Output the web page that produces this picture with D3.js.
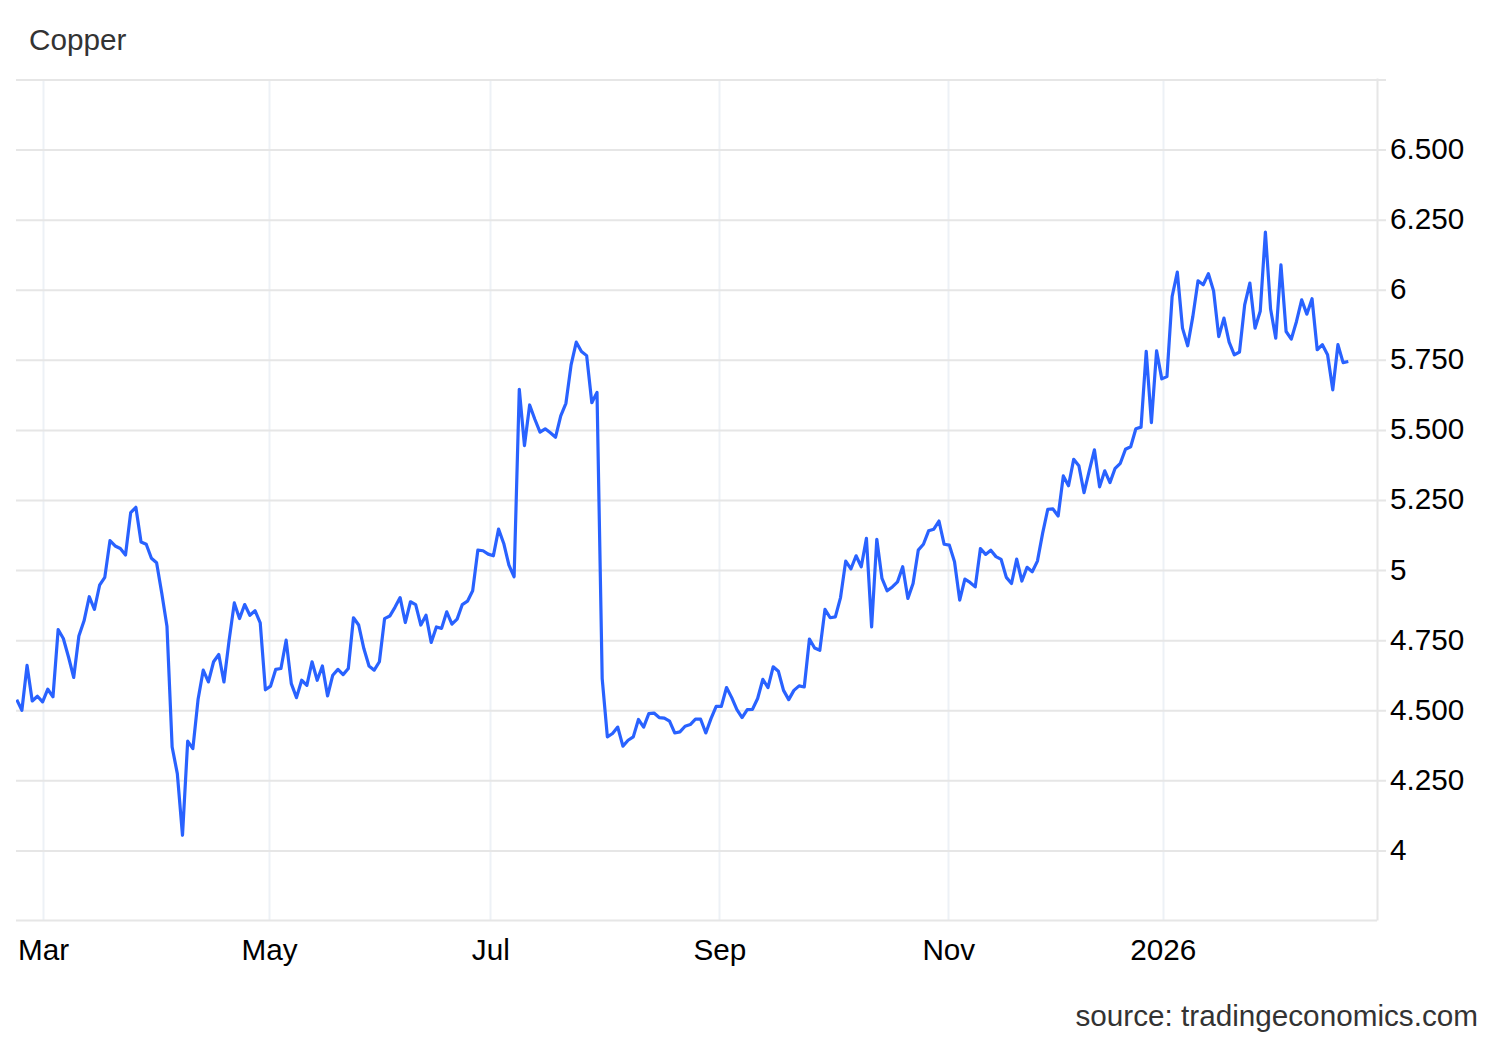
<!DOCTYPE html>
<meta charset="UTF-8">
<head>
    <title>Copper</title>
    <style>
        body { margin: 0; background: #fff; }
        svg { display: block; }
    </style>
</head>
<body>
<svg width="1500" height="1040" font-family="'Liberation Sans', Arial, Helvetica, sans-serif"></svg>
<script src="https://d3js.org/d3.v7.min.js"></script>
<script>

// Daily copper price, USD/lb (one value per trading day).
var prices = [
    4.538, 4.50, 4.66, 4.533, 4.55, 4.53, 4.575, 4.548, 4.788, 4.756,
    4.69, 4.617, 4.765, 4.819, 4.905, 4.86, 4.946, 4.974, 5.105, 5.086,
    5.077, 5.054, 5.205, 5.224, 5.10, 5.092, 5.042, 5.026, 4.917, 4.80,
    4.369, 4.274, 4.054, 4.39, 4.363, 4.538, 4.643, 4.601, 4.673, 4.699,
    4.601, 4.75, 4.883, 4.827, 4.877, 4.839, 4.855, 4.812, 4.573, 4.586,
    4.646, 4.649, 4.75, 4.595, 4.545, 4.607, 4.589, 4.673, 4.607,
    4.658, 4.551, 4.625, 4.646, 4.627, 4.649, 4.83, 4.804, 4.72, 4.658,
    4.643, 4.673, 4.827, 4.836, 4.867, 4.902, 4.813, 4.887, 4.877, 4.804,
    4.839, 4.742, 4.797, 4.792, 4.851, 4.807, 4.825, 4.877, 4.889, 4.926,
    5.071, 5.069, 5.057,
    5.051, 5.146, 5.095, 5.018, 4.976, 5.645, 5.444, 5.589, 5.538, 5.492,
    5.504, 5.49, 5.474, 5.55, 5.595, 5.732, 5.813, 5.78, 5.765, 5.597,
    5.634, 4.613, 4.405, 4.417, 4.44, 4.372, 4.393, 4.405, 4.467, 4.44,
    4.488, 4.49, 4.474, 4.472, 4.461, 4.419, 4.423, 4.443, 4.449, 4.468,
    4.468, 4.419, 4.47, 4.514, 4.514, 4.581, 4.545, 4.502, 4.474, 4.502,
    4.503, 4.542, 4.61, 4.581, 4.655, 4.639, 4.571, 4.538, 4.571, 4.587,
    4.583, 4.754, 4.722, 4.714, 4.86, 4.83, 4.833, 4.902, 5.032, 5.004,
    5.051, 5.012, 5.113, 4.797, 5.11, 4.97, 4.926, 4.94, 4.958, 5.012,
    4.899, 4.952, 5.071, 5.092, 5.14, 5.146, 5.175, 5.092, 5.089, 5.03,
    4.893, 4.968, 4.956, 4.94, 5.077, 5.056, 5.071, 5.048, 5.038, 4.974,
    4.952, 5.039, 4.961, 5.01, 4.994, 5.032, 5.131, 5.217, 5.218, 5.193,
    5.336, 5.301, 5.395, 5.372, 5.276, 5.354, 5.429, 5.297, 5.354, 5.312,
    5.363, 5.381, 5.431, 5.44, 5.504, 5.51, 5.78, 5.526, 5.782, 5.682,
    5.69, 5.976, 6.063, 5.863, 5.80, 5.905, 6.032, 6.018, 6.057, 5.996,
    5.833, 5.899, 5.813, 5.768, 5.778, 5.946, 6.024, 5.863, 5.923, 6.206,
    5.931, 5.827, 6.089, 5.851, 5.824, 5.887, 5.964, 5.913, 5.968, 5.786,
    5.804, 5.768, 5.643, 5.804, 5.74, 5.744
];

// Month labels and where they sit along the trading-day index.
var monthLabels = ["Mar", "May", "Jul", "Sep", "Nov", "2026"];
var monthIndex  = [5.1, 48.7, 91.4, 135.6, 179.8, 221.2];

// Price axis.
var yTicks = [4, 4.25, 4.5, 4.75, 5, 5.25, 5.5, 5.75, 6, 6.25, 6.5, 6.75];
var yLabeled = [4, 4.25, 4.5, 4.75, 5, 5.25, 5.5, 5.75, 6, 6.25, 6.5];

var svg = d3.select("svg");

// plot box (note: "top" is taken by window.top, so use other names)
var plotL = 16, plotR = 1377, plotT = 79.5, plotB = 920.5;
var fontPx = 29.7;

var x = d3.scaleLinear()
    .domain([0, prices.length - 1])
    .range([16.7, 1348.3]);

var y = d3.scaleLinear()
    .domain([3.75, 6.75])
    .range([plotB, plotT]);

var fmt = function(d) { return Number.isInteger(d) ? String(d) : d.toFixed(3); };

// vertical grid lines at month starts
svg.append("g")
    .selectAll("line")
    .data(monthIndex)
    .enter().append("line")
    .attr("x1", function(d) { return Math.round(x(d)) + 0.5; })
    .attr("x2", function(d) { return Math.round(x(d)) + 0.5; })
    .attr("y1", plotT)
    .attr("y2", plotB)
    .attr("stroke", "#edf1f6")
    .attr("stroke-width", 2);

// horizontal grid lines (they run a few px past the right axis, like ticks)
var grid = svg.append("g")
    .attr("transform", "translate(" + (plotR + 9) + ",0)")
    .call(d3.axisLeft(y).tickValues(yTicks).tickSize(plotR + 9 - plotL).tickFormat(""));
grid.select(".domain").remove();
grid.selectAll(".tick line").attr("stroke", "#e6e6e6").attr("stroke-width", 2);

// right axis line
svg.append("line")
    .attr("x1", plotR + 0.5).attr("x2", plotR + 0.5)
    .attr("y1", plotT - 1).attr("y2", plotB)
    .attr("stroke", "#e6e6e6")
    .attr("stroke-width", 2);

// bottom axis line
svg.append("line")
    .attr("x1", plotL).attr("x2", plotR)
    .attr("y1", plotB).attr("y2", plotB)
    .attr("stroke", "#e6e6e6")
    .attr("stroke-width", 2);

// y labels
var yAxis = svg.append("g")
    .attr("transform", "translate(" + plotR + ",0)")
    .call(d3.axisRight(y).tickValues(yLabeled).tickSize(0).tickPadding(13).tickFormat(fmt));
yAxis.select(".domain").remove();
yAxis.selectAll("text")
    .attr("font-size", fontPx)
    .attr("font-family", "'Liberation Sans', Arial, sans-serif")
    .attr("fill", "#000")
    .attr("dy", "0.3em");

// x labels
var xAxis = svg.append("g")
    .attr("transform", "translate(0," + plotB + ")")
    .call(d3.axisBottom(x).tickValues(monthIndex).tickSize(0).tickPadding(18)
        .tickFormat(function(d, i) { return monthLabels[i]; }));
xAxis.select(".domain").remove();
xAxis.selectAll("text")
    .attr("font-size", fontPx)
    .attr("font-family", "'Liberation Sans', Arial, sans-serif")
    .attr("fill", "#000");

// clip so the line stays inside the plot
svg.append("clipPath").attr("id", "plot")
    .append("rect")
    .attr("x", plotL).attr("y", 0)
    .attr("width", plotR - plotL).attr("height", 1040);

var line = d3.line()
    .x(function(d, i) { return x(i); })
    .y(function(d) { return y(d); });

svg.append("path")
    .datum(prices)
    .attr("clip-path", "url(#plot)")
    .attr("d", line)
    .attr("fill", "none")
    .attr("stroke", "#2962ff")
    .attr("stroke-width", 3.2)
    .attr("stroke-linejoin", "round");

// title + source
svg.append("text")
    .attr("x", 29).attr("y", 50)
    .attr("font-size", fontPx)
    .attr("fill", "#333")
    .text("Copper");

svg.append("text")
    .attr("x", 1478).attr("y", 1026)
    .attr("text-anchor", "end")
    .attr("font-size", fontPx)
    .attr("fill", "#333")
    .text("source: tradingeconomics.com");

</script>
</body>
